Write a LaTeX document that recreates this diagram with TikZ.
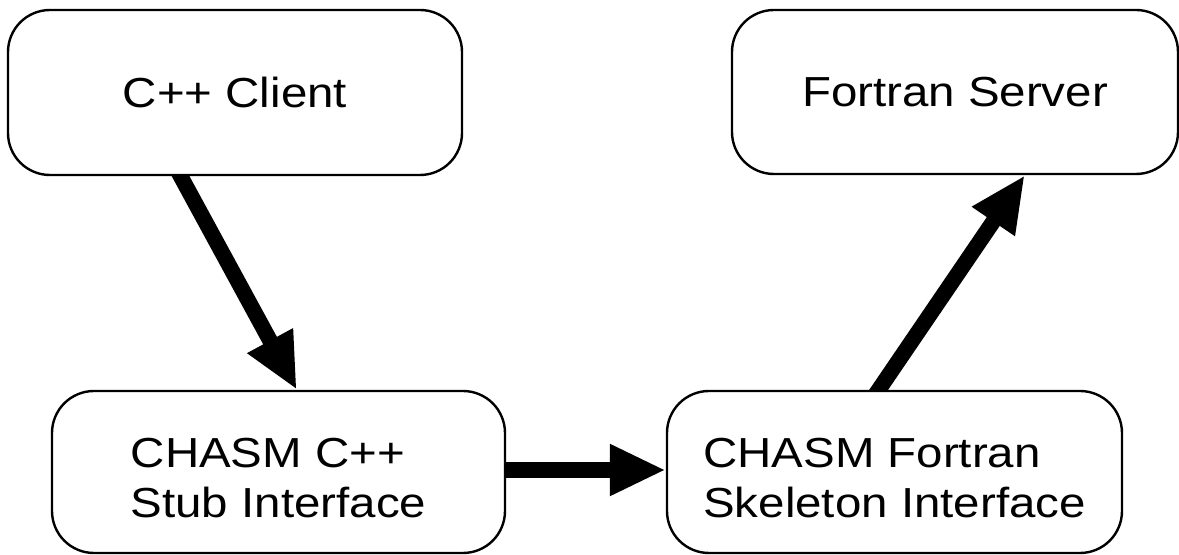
\documentclass[tikz,border=0pt]{standalone}
\usepackage{fontspec}
\setmainfont{Liberation Sans}[FakeStretch=1.13]
\usetikzlibrary{arrows.meta,backgrounds,calc}
\newcommand{\topstrut}{\rule{0pt}{21pt}}
\begin{document}
\begin{tikzpicture}[x=0.5pt,y=-0.5pt,
  box/.style={draw=black,line width=1.2pt,fill=white,rounded corners=21pt,
    align=left,font=\fontsize{21pt}{25pt}\selectfont,inner sep=0pt},
  flow/.style={line width=7.8pt,-{Triangle[length=28pt,width=24pt]}}]
\useasboundingbox (0,0) rectangle (1179,555);
\node[box,minimum width=227pt,minimum height=82.5pt] (cpp) at (235,92.5) {C++ Client};
\node[box,minimum width=223pt,minimum height=82pt] (fortran) at (955,92) {Fortran Server};
\node[box,minimum width=226.5pt,minimum height=81pt] (stub) at (278.5,472) {\topstrut CHASM C++\\Stub Interface};
\node[box,minimum width=227.5pt,minimum height=81pt] (skel) at (894.5,472) {\topstrut CHASM Fortran\\Skeleton Interface};
\begin{scope}[on background layer]
\draw[flow] ($(cpp.south west)+(164,-18)$) -- ($(stub.north west)+(246,0)$);
\draw[flow] ([yshift=1pt]stub.east) -- ([yshift=1pt]skel.west);
\draw[flow] ($(skel.north west)+(202,16)$) -- ($(fortran.south west)+(294,0)$);
\end{scope}
\end{tikzpicture}
\end{document}
